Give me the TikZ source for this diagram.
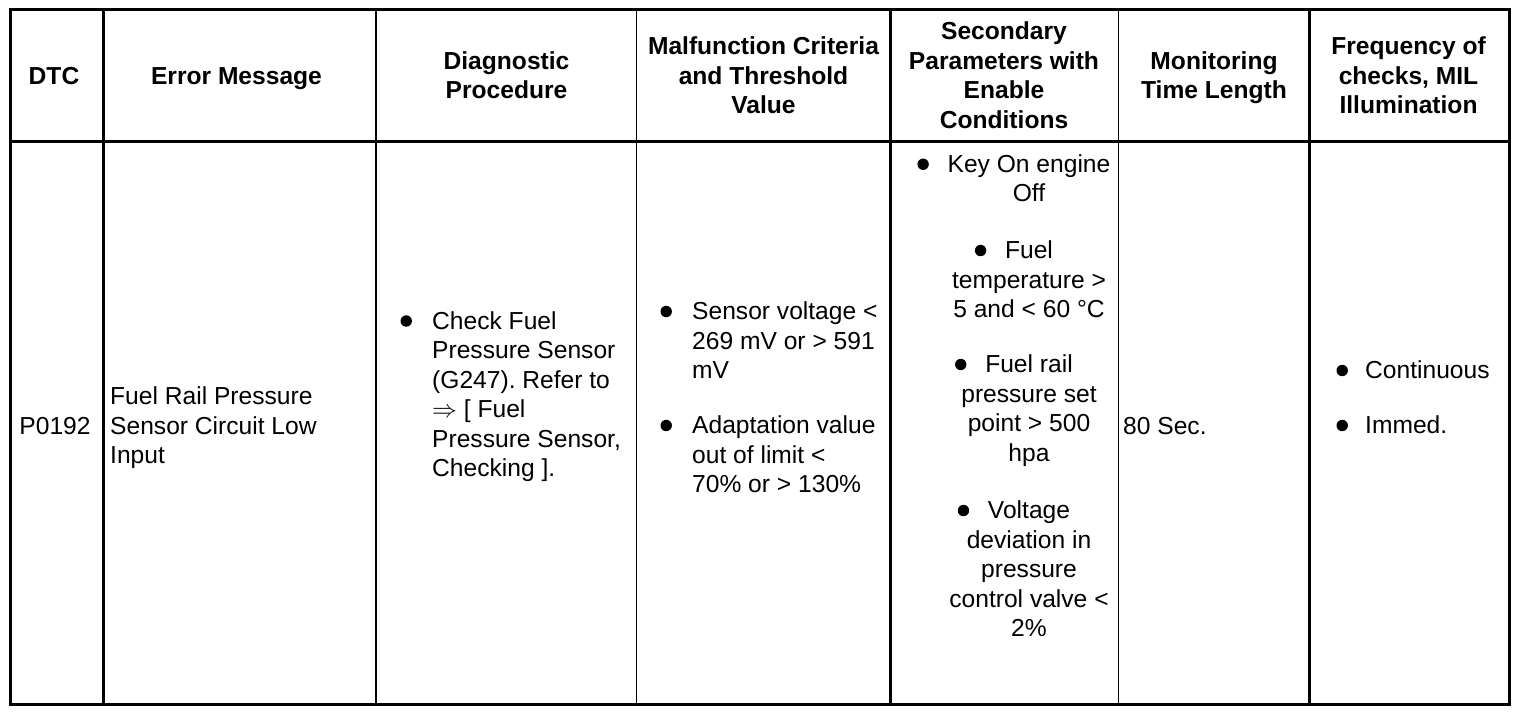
\documentclass[tikz,border=0pt]{standalone}
\usepackage{fontspec}
\setmainfont{Liberation Sans}
\frenchspacing
\newcommand\blt[1]{\llap{\tikz[baseline=0pt]\fill (0pt,8pt) circle (5.7pt);\hspace{#1}}}
\begin{document}
\frenchspacing
\begin{tikzpicture}[x=1pt,y=-1pt,
  hdr/.style={font=\fontsize{24.6}{29.5}\selectfont\bfseries, align=center, inner sep=0pt},
  body/.style={font=\fontsize{24.6}{29.5}\selectfont, align=left, inner sep=0pt},
  outer/.style={line width=3pt},
  rule/.style={line width=2.5pt},
  thin/.style={line width=1.3pt}]
\useasboundingbox (0,0) rectangle (1536,712);
% grid
\draw[outer] (10.5,9.5) rectangle (1509,704.5);
\draw[rule] (10.5,141.3) -- (1509,141.3);
\draw[outer] (103.7,9.5) -- (103.7,704.5);
\draw[line width=2pt] (376,9.5) -- (376,704.5);
\draw[thin] (636.3,9.5) -- (636.3,704.5);
\draw[rule] (890.7,9.5) -- (890.7,704.5);
\draw[thin] (1118.2,9.5) -- (1118.2,704.5);
\draw[line width=2.2pt] (1309.5,9.5) -- (1309.5,704.5);
% headers
\node[hdr] (h1) at (54,78.1) {\strut DTC};
\node[hdr] (h2) at (236.5,78.1) {\strut Error Message};
\node[hdr] (h3) at (506.5,78.1) {\strut Diagnostic\\\strut Procedure};
\node[hdr] (h4) at (763.5,78.1) {\strut Malfunction Criteria\\\strut and Threshold\\\strut Value};
\node[hdr] (h5) at (1004,78.1) {\strut Secondary\\\strut Parameters with\\\strut Enable\\\strut Conditions};
\node[hdr] (h6) at (1214,78.1) {\strut Monitoring\\\strut Time Length};
\node[hdr] (h7) at (1408.5,78.1) {\strut Frequency of\\\strut checks, MIL\\\strut Illumination};
% body
\node[body, anchor=base] (dtc) at (55,434) {P0192};
\node[body, anchor=west] (err) at (110,428.1) {\strut Fuel Rail Pressure\\\strut Sensor Circuit Low\\\strut Input};
\node[body, anchor=west] (diag) at (432,396.85) {\blt{20.3pt}\strut Check Fuel\\\strut Pressure Sensor\\\strut (G247). Refer to\\\strut $\Rightarrow$ [ Fuel\\\strut Pressure Sensor,\\\strut Checking ].};
\node[body, anchor=west] (mal1) at (692,343.1) {\blt{20.3pt}\strut Sensor voltage <\\\strut 269 mV or > 591\\\strut mV};
\node[body, anchor=west] (mal2) at (692,457.1) {\blt{20.3pt}\strut Adaptation value\\\strut out of limit <\\\strut 70\% or > 130\%};
\node[body, align=center] (s1) at (1029,181.1) {\blt{18.8pt}\strut Key On engine\\\strut Off};
\node[body, align=center] (s2) at (1029,282.1) {\blt{18.8pt}\strut Fuel\\\strut temperature >\\\strut 5 and < 60 °C};
\node[body, align=center] (s3) at (1029,410.85) {\blt{18.8pt}\strut Fuel rail\\\strut pressure set\\\strut point > 500\\\strut hpa};
\node[body, align=center] (s4) at (1029,571.6) {\blt{18.8pt}\strut Voltage\\\strut deviation in\\\strut pressure\\\strut control valve <\\\strut 2\%};
\node[body, anchor=base west] (mt) at (1123,434) {80 Sec.};
\node[body, anchor=base west] (f1) at (1365,378.5) {\blt{17.3pt}Continuous};
\node[body, anchor=base west] (f2) at (1365,433.5) {\blt{17.3pt}Immed.};
\end{tikzpicture}
\end{document}
